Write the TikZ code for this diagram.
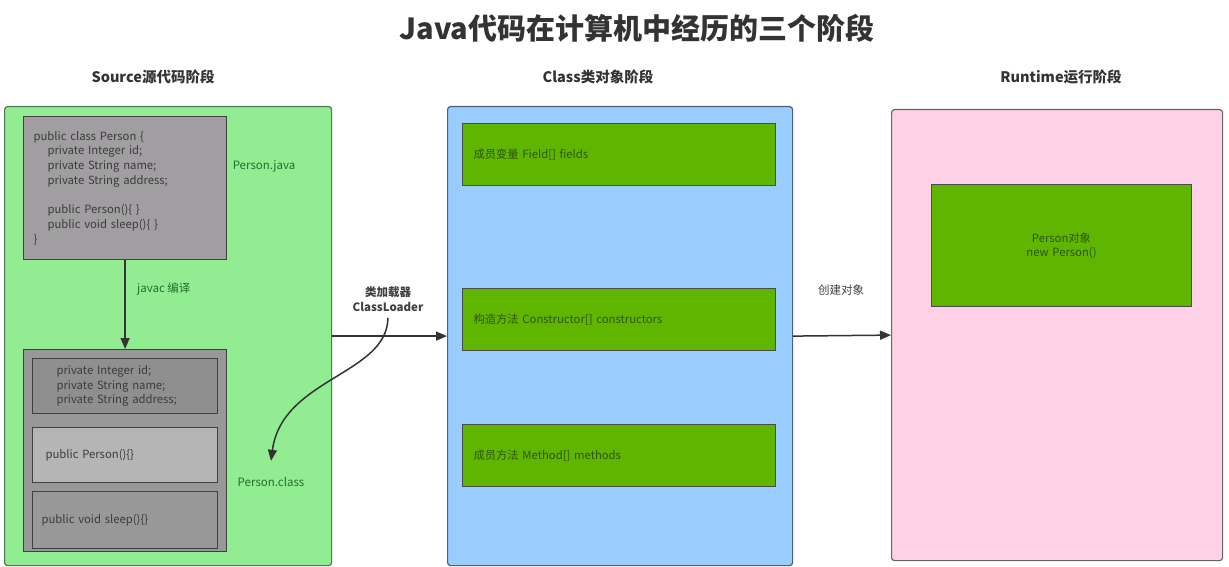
\documentclass[tikz,border=0pt]{standalone}
\usepackage{fontspec}
\setmainfont{Noto Sans CJK SC}
\usepackage{xcolor}
\usepackage{tikz}
\usetikzlibrary{positioning,calc,arrows.meta}

\definecolor{srcgreen}{RGB}{146,236,146}
\definecolor{srcedge}{RGB}{85,115,85}
\definecolor{codegray}{RGB}{160,158,160}
\definecolor{classgray}{RGB}{152,152,152}
\definecolor{fieldgray}{RGB}{143,143,143}
\definecolor{ctorgray}{RGB}{181,181,181}
\definecolor{clsblue}{RGB}{153,204,255}
\definecolor{clsedge}{RGB}{80,95,120}
\definecolor{objpink}{RGB}{255,209,230}
\definecolor{memgreen}{RGB}{96,181,0}
\definecolor{labelgreen}{RGB}{35,110,45}
\definecolor{memtext}{RGB}{45,85,15}
\definecolor{inktext}{RGB}{60,60,60}

\begin{document}
\begin{tikzpicture}[x=1pt,y=-1pt,
    panel/.style={draw=#1, line width=1.2pt, rounded corners=3pt, anchor=north west},
    codebox/.style={draw=black!75, line width=1.2pt, anchor=north west, align=left,
        text=inktext, font=\fontsize{11.3}{14.7}\selectfont},
    membox/.style={draw=black!70, fill=memgreen, line width=1pt, anchor=north west,
        minimum width=313pt, minimum height=62pt, inner xsep=11pt, text width=291pt,
        align=left, text=memtext, font=\fontsize{11.3}{14}\selectfont},
    stage/.style={font=\fontsize{14.5}{17}\selectfont\bfseries, text=black!80},
    tag/.style={font=\fontsize{11.5}{14}\selectfont, text=labelgreen},
    flow/.style={draw=black!80, line width=1.5pt, -{Triangle[length=11pt,width=9pt]}}]
    \useasboundingbox (0,0) rectangle (1229,567);

    % Title
    \node[font=\fontsize{29}{34}\selectfont\bfseries, text=black!80] (title) at (637,28)
        {Java代码在计算机中经历的三个阶段};

    % Stage headings
    \node[stage] (hsrc) at (153,77) {Source源代码阶段};
    \node[stage] (hcls) at (598,77) {Class类对象阶段};
    \node[stage] (hrt) at (1061,77) {Runtime运行阶段};

    % Source stage
    \node[panel=srcedge, fill=srcgreen, minimum width=327pt, minimum height=459pt] (src) at (4,106) {};
    \node[codebox, fill=codegray, minimum width=203pt, minimum height=143pt,
        inner xsep=10pt, text width=183pt] (java) at (23,116)
        {public class Person \{\\
         \hspace*{14pt}private Integer id;\\
         \hspace*{14pt}private String name;\\
         \hspace*{14pt}private String address;\\[14.7pt]
         \hspace*{14pt}public Person()\{ \}\\
         \hspace*{14pt}public void sleep()\{ \}\\
         \}};
    \node[tag] (pjava) at (264,166) {Person.java};

    \node[codebox, fill=classgray, minimum width=203pt, minimum height=202pt] (bytes) at (23,349) {};
    \node[codebox, fill=fieldgray, minimum width=185pt, minimum height=55pt,
        inner xsep=24pt, text width=137pt] (fields) at (32,358)
        {private Integer id;\\ private String name;\\ private String address;};
    \node[codebox, fill=ctorgray, minimum width=185pt, minimum height=55pt,
        inner xsep=13pt, text width=159pt] (ctor) at (32,427) {public Person()\{\}};
    \node[codebox, fill=classgray, minimum width=185pt, minimum height=57pt,
        inner xsep=9pt, text width=167pt] (sleep) at (32,491) {public void sleep()\{\}};
    \node[tag] (pclass) at (271,482) {Person.class};

    \draw[flow] (java.south) -- node[tag, right=8pt, pos=0.33] (javac) {javac 编译} (bytes.north);

    % Class stage
    \node[panel=clsedge, fill=clsblue, minimum width=345pt, minimum height=459pt] (cls) at (447,106) {};
    \node[membox] (fld) at (462,123) {成员变量 Field[] fields};
    \node[membox] (con) at (462,288) {构造方法 Constructor[] constructors};
    \node[membox] (mth) at (462,424) {成员方法 Method[] methods};

    % Runtime stage
    \node[panel=black!60, fill=objpink, minimum width=331pt, minimum height=451pt] (rt) at (891,109) {};
    \node[membox, minimum width=260pt, minimum height=122pt, text width=238pt, align=center]
        (obj) at (931,184) {Person对象\\new Person()};

    % Transitions
    \draw[flow] (src.east) -- (cls.west);
    \node[font=\fontsize{11.5}{14.5}\selectfont\bfseries, text=black!75, align=center] (loader) at (388,299)
        {类加载器\\ClassLoader};
    \node[font=\fontsize{11.5}{14}\selectfont, text=black!75] (create) at (841,290) {创建对象};
    \draw[flow] (cls.east) -- (rt.west);
    \draw[flow] ([yshift=-3pt]loader.south) .. controls (387,375) and (282,378) .. ([yshift=13pt]pclass.north);
\end{tikzpicture}
\end{document}
